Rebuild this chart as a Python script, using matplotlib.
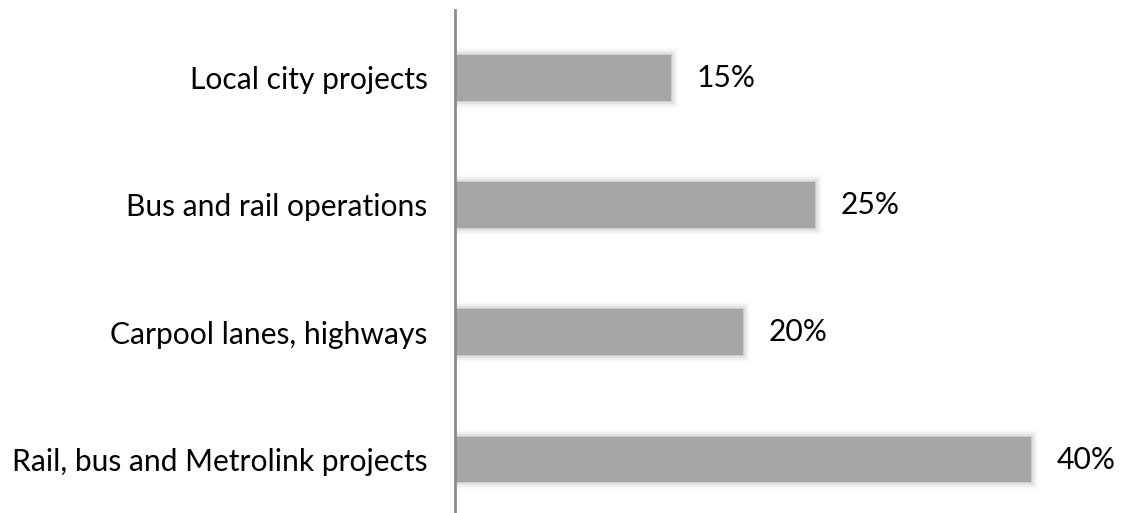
import numpy as np
import matplotlib
matplotlib.use('Agg')
import matplotlib.pyplot as plt

# data (bottom to top)
categories = ['Rail, bus and Metrolink projects', 'Carpool lanes, highways',
              'Bus and rail operations', 'Local city projects']
shares = [40, 20, 25, 15]
value_labels = ['40%', '20%', '25%', '15%']

bar_color = '#a6a6a6'
font_name = 'Lato'
font_size = 21.6

fig = plt.figure(figsize=(11.38, 5.13), dpi=100)
ax = fig.add_axes([0.4, 0.0, 0.6, 0.98])

y = np.arange(len(categories))
px_x = 47.4 / (1138 * 0.6)      # data units per pixel, x
px_y = 3.95 / (513 * 0.98)      # data units per pixel, y
h = 0.36

# soft blurred edge, like the original shadow
for pad, a in [(7, 0.06), (5, 0.1), (3, 0.18), (1, 0.35)]:
    ax.barh(y, np.array(shares) + 2 * pad * px_x, left=-pad * px_x,
            height=h + 2 * pad * px_y, color=bar_color, alpha=a, linewidth=0)
ax.barh(y, shares, height=h, color=bar_color, linewidth=0)

for yi, v, lab in zip(y, shares, value_labels):
    ax.text(v + 25 * px_x, yi, lab, va='center', ha='left',
            fontsize=font_size, family=font_name, color='black')

ax.set_xlim(0, 47.4)
ax.set_ylim(-0.42, 3.53)
ax.set_yticks(y)
ax.set_yticklabels(categories, fontsize=font_size, family=font_name)
ax.tick_params(axis='y', length=0, pad=20)
ax.set_xticks([])

for s in ['top', 'right', 'bottom']:
    ax.spines[s].set_visible(False)
ax.spines['left'].set_color('#8c8c8c')
ax.spines['left'].set_linewidth(2)
ax.set_zorder(2)

fig.savefig('out.png', dpi=100)
